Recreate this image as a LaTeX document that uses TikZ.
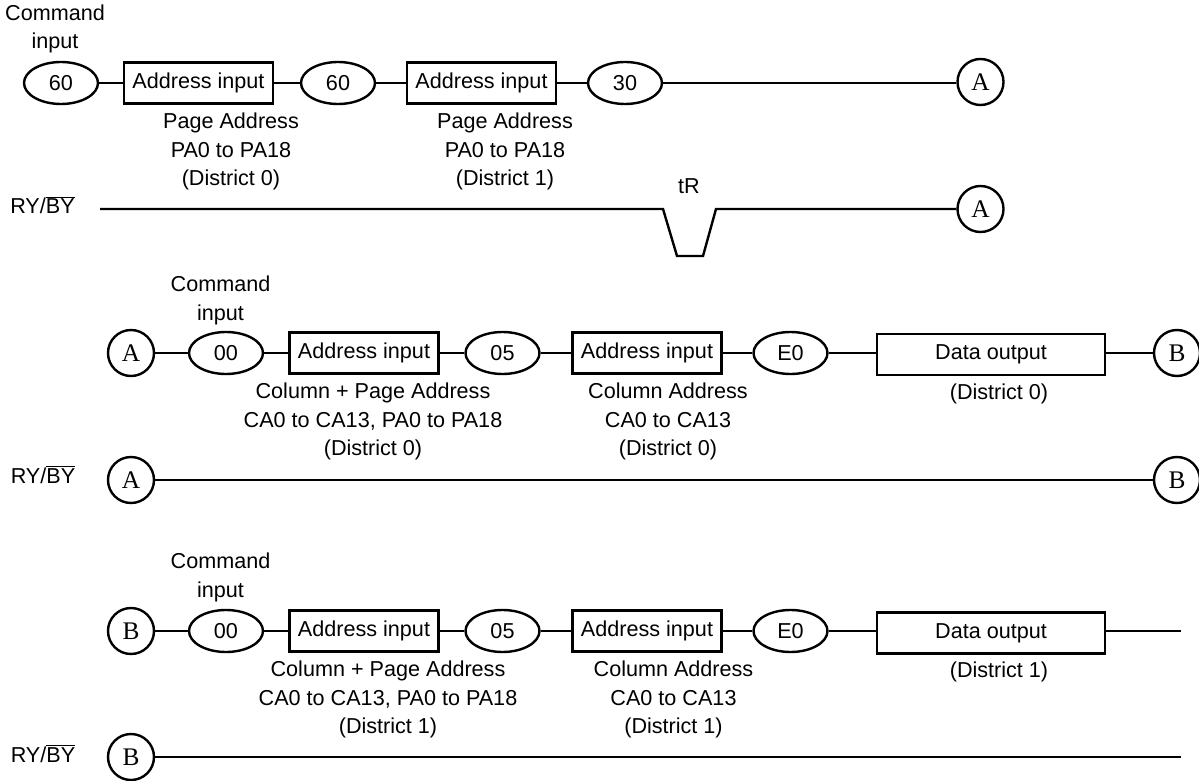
\documentclass[tikz,border=0pt]{standalone}
\usepackage{fontspec}
\setmainfont{Liberation Sans}
\newfontfamily\conserif{Liberation Serif}
\usetikzlibrary{shapes.geometric}
\begin{document}
\begin{tikzpicture}[x=0.75pt,y=-0.75pt,line width=1.8pt,
  every node/.style={font=\fontsize{16.2}{21.4}\selectfont},
  cmd/.style={draw,ellipse,minimum width=55.5pt,minimum height=31.5pt,inner sep=0pt},
  addr/.style={draw,rectangle,minimum width=112pt,minimum height=31pt,inner sep=0pt},
  dout/.style={draw,rectangle,minimum width=171pt,minimum height=31pt,inner sep=0pt},
  conn/.style={draw,circle,minimum size=34.5pt,inner sep=0pt,font=\conserif\fontsize{19}{20}\selectfont},
  lbl/.style={align=center,inner sep=0pt},
  sig/.style={anchor=base,inner sep=0pt}]
\useasboundingbox (0,0) rectangle (1199,781);

% ---------- Row 1 ----------
\node[lbl] (r1cmd) at (55,29) {Command\\input};
\node[cmd] (r1e1) at (61,83) {60};
\node[addr] (r1b1) at (198.5,83) {Address input};
\node[cmd] (r1e2) at (338,83) {60};
\node[addr] (r1b2) at (481.5,83) {Address input};
\node[cmd] (r1e3) at (625,83) {30};
\node[conn] (r1A) at (980.5,82) {A};
\draw (r1e1) -- (r1b1) -- (r1e2) -- (r1b2) -- (r1e3) -- (r1e3 -| r1A.west);
\node[lbl] (r1l1) at (231,151.5) {Page Address\\PA0 to PA18\\(District 0)};
\node[lbl] (r1l2) at (505,151.5) {Page Address\\PA0 to PA18\\(District 1)};

\node[sig] (r1ry) at (42.5,214) {RY/$\overline{\hbox{BY}}$};
\node[sig] (tR) at (689,194) {tR};
\node[conn] (r1A2) at (980.5,209) {A};
\coordinate (r1s) at (100,209);
\coordinate (d1) at (663,209);
\coordinate (d2) at (677,256);
\coordinate (d3) at (703,256);
\coordinate (d4) at (716,209);
\draw[line join=miter] (r1s) -- (d1) -- (d2) -- (d3) -- (d4) -- (r1A2);

% ---------- Row 2 ----------
\node[lbl] (r2cmd) at (220.5,300.5) {Command\\input};
\node[conn] (r2A) at (131,353) {A};
\node[cmd] (r2e1) at (226,353) {00};
\node[addr] (r2b1) at (364,353) {Address input};
\node[cmd] (r2e2) at (502.5,353) {05};
\node[addr] (r2b2) at (647,353) {Address input};
\node[cmd] (r2e3) at (790.5,353) {E0};
\node[dout] (r2d) at (991,354.5) {Data output};
\node[conn] (r2B) at (1177,353) {B};
\draw (r2A) -- (r2e1) -- (r2b1) -- (r2e2) -- (r2b2) -- (r2e3) -- (r2e3 -| r2d.west);
\draw (r2e3 -| r2d.east) -- (r2B);
\node[lbl] (r2l1) at (373,421.5) {Column + Page Address\\CA0 to CA13, PA0 to PA18\\(District 0)};
\node[lbl] (r2l2) at (668,421.5) {Column Address\\CA0 to CA13\\(District 0)};
\node[lbl] (r2l3) at (999,394) {(District 0)};

\node[sig] (r2ry) at (43,483) {RY/$\overline{\hbox{BY}}$};
\node[conn] (r2A2) at (131,480) {A};
\node[conn] (r2B2) at (1177,480) {B};
\draw (r2A2) -- (r2B2);

% ---------- Row 3 ----------
\node[lbl] (r3cmd) at (220.5,577.5) {Command\\input};
\node[conn] (r3B) at (131,631) {B};
\node[cmd] (r3e1) at (226,631) {00};
\node[addr] (r3b1) at (364,631) {Address input};
\node[cmd] (r3e2) at (502.5,631) {05};
\node[addr] (r3b2) at (647,631) {Address input};
\node[cmd] (r3e3) at (790.5,631) {E0};
\node[dout] (r3d) at (991,633) {Data output};
\coordinate (r3end) at (1181,631);
\draw (r3B) -- (r3e1) -- (r3b1) -- (r3e2) -- (r3b2) -- (r3e3) -- (r3e3 -| r3d.west);
\draw (r3e3 -| r3d.east) -- (r3end);
\node[lbl] (r3l1) at (388,699.5) {Column + Page Address\\CA0 to CA13, PA0 to PA18\\(District 1)};
\node[lbl] (r3l2) at (673.5,699.5) {Column Address\\CA0 to CA13\\(District 1)};
\node[lbl] (r3l3) at (999,672) {(District 1)};

\node[sig] (r3ry) at (43,762) {RY/$\overline{\hbox{BY}}$};
\node[conn] (r3B2) at (131,757) {B};
\coordinate (r3end2) at (1181,757);
\draw (r3B2) -- (r3end2);
\end{tikzpicture}
\end{document}
